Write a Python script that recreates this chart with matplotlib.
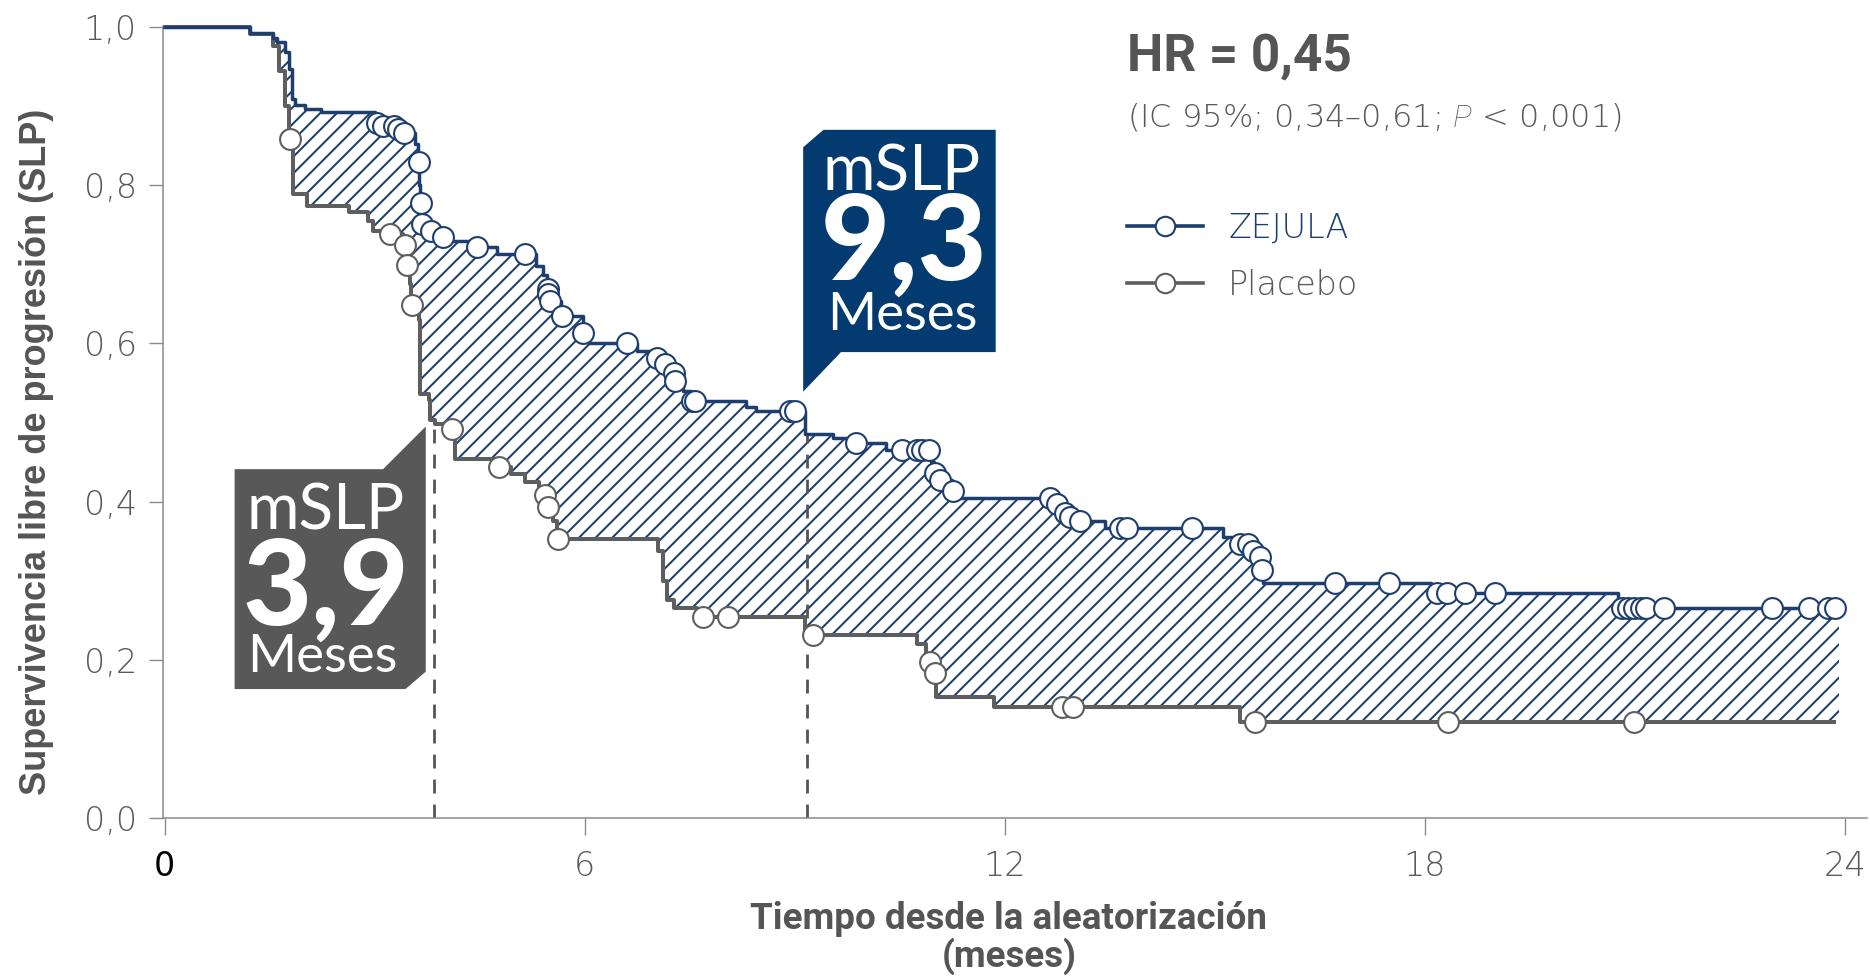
import numpy as np
import matplotlib
matplotlib.use("Agg")
import matplotlib.pyplot as plt
from matplotlib.patches import Polygon
from matplotlib.lines import Line2D

# ---------------- data ----------------
zejula_t = [0, 1.22, 1.55, 1.60, 1.72, 1.78, 1.815, 1.86, 2.0, 2.24, 3.0, 3.10, 3.32, 3.40,
            3.58, 3.62, 3.64, 3.65, 3.66, 3.80, 3.96, 4.05, 4.35, 4.45, 4.75, 5.30, 5.40,
            5.46, 5.475, 5.49, 5.66, 5.97, 6.05, 6.75, 7.02, 7.14, 7.26, 7.28, 7.40, 7.52,
            8.30, 8.45, 9.15, 9.55, 9.75, 10.30, 10.95, 10.99, 11.06, 11.24, 11.30, 12.72,
            12.84, 12.92, 13.05, 13.43, 15.12, 15.34, 15.53, 15.63, 15.66, 15.69, 18.09, 20.76]
zejula_s = [1.0, 0.993, 0.986, 0.981, 0.968, 0.947, 0.909, 0.902, 0.8965, 0.893, 0.878, 0.875,
            0.871, 0.866, 0.852, 0.829, 0.80, 0.778, 0.751, 0.742, 0.734, 0.730, 0.726, 0.722,
            0.713, 0.698, 0.686, 0.669, 0.663, 0.654, 0.635, 0.613, 0.600, 0.591, 0.582, 0.574,
            0.562, 0.553, 0.540, 0.527, 0.519, 0.515, 0.486, 0.480, 0.474, 0.465, 0.450, 0.436,
            0.427, 0.414, 0.405, 0.397, 0.386, 0.380, 0.376, 0.366, 0.355, 0.347, 0.338, 0.330,
            0.313, 0.297, 0.284, 0.265]
zejula_end = 23.92
zejula_cens = [3.03, 3.12, 3.27, 3.34, 3.42, 3.63, 3.655, 3.67, 3.81, 3.98, 4.46, 5.15, 5.47,
               5.48, 5.50, 5.67, 5.98, 6.6, 7.03, 7.15, 7.27, 7.29, 7.53, 7.58, 8.93, 9.0, 9.88,
               10.53, 10.74, 10.81, 10.91, 11.0, 11.07, 11.26, 12.65, 12.74, 12.86, 12.93, 13.07,
               13.64, 13.74, 14.67, 15.36, 15.48, 15.55, 15.65, 15.67, 16.72, 17.49, 18.17, 18.32,
               18.57, 19.0, 20.82, 20.9, 20.99, 21.08, 21.16, 21.42, 22.96, 23.49, 23.75, 23.86]

placebo_t = [0, 1.22, 1.55, 1.64, 1.72, 1.78, 1.84, 2.04, 2.63, 2.90, 2.98, 3.22, 3.40, 3.455,
             3.50, 3.52, 3.64, 3.65, 3.77, 3.79, 3.86, 4.09, 4.15, 4.70, 4.95, 5.15, 5.35, 5.42,
             5.46, 5.55, 5.60, 7.05, 7.12, 7.17, 7.28, 7.60, 9.15, 10.74, 10.88, 10.99, 11.02,
             11.84, 15.36]
placebo_s = [1.0, 0.991, 0.976, 0.944, 0.900, 0.858, 0.789, 0.774, 0.766, 0.755, 0.742, 0.738,
             0.724, 0.699, 0.675, 0.648, 0.629, 0.536, 0.528, 0.503, 0.498, 0.492, 0.454, 0.444,
             0.435, 0.425, 0.418, 0.408, 0.393, 0.375, 0.353, 0.338, 0.300, 0.275, 0.265, 0.254,
             0.231, 0.2205, 0.197, 0.183, 0.153, 0.1405, 0.121]
placebo_end = 23.84
placebo_cens = [1.79, 3.22, 3.43, 3.46, 3.53, 4.10, 4.77, 5.43, 5.48, 5.62, 7.69, 8.05, 9.26,
                10.93, 11.0, 12.81, 12.98, 15.57, 18.33, 20.98]

median_placebo = 3.85
median_zejula = 9.17

x_ticks = [0, 6, 12, 18, 24]
x_tick_labels = ["0", "6", "12", "18", "24"]
y_ticks = [0.0, 0.2, 0.4, 0.6, 0.8, 1.0]
y_tick_labels = ["0,0", "0,2", "0,4", "0,6", "0,8", "1,0"]

series_labels = ["ZEJULA", "Placebo"]
hr_text = "HR = 0,45"
ci_text = "(IC 95%; 0,34\u20130,61; $P$ < 0,001)"
y_label = "Supervivencia libre de progresi\u00f3n (SLP)"
x_label_1 = "Tiempo desde la aleatorizaci\u00f3n"
x_label_2 = "(meses)"

# ---------------- style ----------------
NAVY = "#1D3E6E"
NAVY_BOX = "#033B70"
GRAY = "#5E5E5E"
GRAY_BOX = "#585858"
TXT = "#555555"
LIGHT_FONT = {"family": "DejaVu Sans", "weight": 200}

plt.rcParams["hatch.linewidth"] = 1.45
plt.rcParams["mathtext.fontset"] = "custom"
plt.rcParams["mathtext.it"] = "Roboto:italic:light"
plt.rcParams["mathtext.rm"] = "Roboto:light"


def surv(t_events, s_vals, t):
    t_events = np.asarray(t_events, float)
    idx = np.searchsorted(t_events, np.asarray(t, float), side="right") - 1
    return np.asarray(s_vals, float)[idx]


fig = plt.figure(figsize=(18.7, 9.76), dpi=100)
ax = fig.add_axes([0.08727, 0.16189, 0.9110, 0.81045])
ax.set_xlim(-0.02, 24.31)
ax.set_ylim(0, 1.0)

# hatched area between curves
grid = np.unique(np.concatenate([np.asarray(zejula_t), np.asarray(placebo_t), [zejula_end]]))
grid = grid[(grid >= 1.2) & (grid <= zejula_end)]
yz = surv(zejula_t, zejula_s, grid)
yp = surv(placebo_t, placebo_s, grid)
ax.fill_between(grid, yp, yz, step="post", facecolor="white", edgecolor=NAVY,
                hatch="//", linewidth=0, zorder=1)

# median dashed lines
med_x = [median_placebo, median_zejula]
med_y = [surv(placebo_t, placebo_s, median_placebo), surv(zejula_t, zejula_s, median_zejula)]
ax.vlines(med_x, 0, med_y, colors="#555555", linestyles=(0, (5, 4.0)), linewidth=2.0, zorder=2)

# step curves
px = list(placebo_t) + [placebo_end]
py = list(placebo_s) + [placebo_s[-1]]
ax.step(px, py, where="post", color=GRAY, lw=2.9, zorder=3, clip_on=False)
zx = list(zejula_t) + [zejula_end]
zy = list(zejula_s) + [zejula_s[-1]]
ax.step(zx, zy, where="post", color=NAVY, lw=2.5, zorder=4, clip_on=False)

# censor marks
ax.plot(placebo_cens, surv(placebo_t, placebo_s, placebo_cens), "o", ms=15, mfc="white",
        mec=GRAY, mew=1.5, zorder=5, clip_on=False)
ax.plot(zejula_cens, surv(zejula_t, zejula_s, zejula_cens), "o", ms=15, mfc="white",
        mec=NAVY, mew=1.5, zorder=6, clip_on=False)

# axes styling
for s in ["top", "right"]:
    ax.spines[s].set_visible(False)
for s in ["left", "bottom"]:
    ax.spines[s].set_color("#8A8A8A")
    ax.spines[s].set_linewidth(1.1)
ax.set_xticks(x_ticks)
ax.set_xticklabels(x_tick_labels)
ax.set_yticks(y_ticks)
ax.set_yticklabels(y_tick_labels)
ax.tick_params(axis="y", length=10, width=1.0, color="#8A8A8A", pad=9, labelsize=24,
               labelcolor="#5A5A5A")
ax.tick_params(axis="x", length=12, width=1.0, color="#8A8A8A", pad=11, labelsize=24,
               labelcolor="#5A5A5A")
for lab in ax.get_xticklabels() + ax.get_yticklabels():
    lab.set_fontfamily(LIGHT_FONT["family"])
    lab.set_fontweight(LIGHT_FONT["weight"])
ax.get_xticklabels()[0].set_color("black")
ax.get_xticklabels()[0].set_fontweight("normal")

# axis labels
fig.text(0.0193, 0.537, y_label, rotation=90, ha="center", va="center",
         fontsize=26, fontweight="bold", color=TXT, family="Liberation Sans")
fig.text(0.5393, 0.0480, x_label_1, ha="center", va="baseline", fontsize=26.5,
         fontweight="bold", color=TXT, family="Roboto")
fig.text(0.5395, 0.0100, x_label_2, ha="center", va="baseline", fontsize=26.5,
         fontweight="bold", color=TXT, family="Roboto")

# HR text
ax.text(0.5655, 0.944, hr_text, transform=ax.transAxes, ha="left", va="baseline",
        fontsize=37, fontweight="bold", color=TXT, family="Roboto")
ax.text(0.5655, 0.874, ci_text, transform=ax.transAxes, ha="left", va="baseline",
        fontsize=23, fontweight=LIGHT_FONT["weight"], color="#5A5A5A",
        family=LIGHT_FONT["family"])

# legend
handles = [Line2D([], [], color=NAVY, lw=2.6, marker="o", ms=14, mfc="white", mec=NAVY, mew=1.5),
           Line2D([], [], color=GRAY, lw=2.6, marker="o", ms=14, mfc="white", mec=GRAY, mew=1.5)]
leg = ax.legend(handles, series_labels, loc="upper left", bbox_to_anchor=(0.5655, 0.766),
                frameon=False, borderpad=0, borderaxespad=0, handlelength=2.3,
                handletextpad=0.75, labelspacing=0.72, numpoints=1,
                prop={"family": LIGHT_FONT["family"], "weight": LIGHT_FONT["weight"], "size": 24})
leg.get_texts()[0].set_color(NAVY)
leg.get_texts()[1].set_color("#5A5A5A")

# annotation boxes (speech-bubble shapes)
navy_box = [(9.12, 0.848), (9.41, 0.870), (11.87, 0.870), (11.87, 0.589), (9.66, 0.589),
            (9.12, 0.539)]
gray_box = [(1.0, 0.441), (3.12, 0.441), (3.73, 0.495), (3.73, 0.185), (3.44, 0.163),
            (1.0, 0.163)]
ax.add_patch(Polygon(navy_box, closed=True, facecolor=NAVY_BOX, edgecolor="none", zorder=8))
ax.add_patch(Polygon(gray_box, closed=True, facecolor=GRAY_BOX, edgecolor="none", zorder=8))

box_font = "Lato"
ax.text(10.53, 0.793, "mSLP", ha="center", va="baseline", fontsize=46, fontweight="normal",
        color="white", family=box_font, zorder=9)
ax.text(10.56, 0.681, "9,3", ha="center", va="baseline", fontsize=86, fontweight="black",
        color="white", family=box_font, zorder=9)
ax.text(10.54, 0.617, "Meses", ha="center", va="baseline", fontsize=38, fontweight="normal",
        color="white", family=box_font, zorder=9)
ax.text(2.30, 0.365, "mSLP", ha="center", va="baseline", fontsize=46, fontweight="normal",
        color="white", family=box_font, zorder=9)
ax.text(2.30, 0.244, "3,9", ha="center", va="baseline", fontsize=86, fontweight="black",
        color="white", family=box_font, zorder=9)
ax.text(2.25, 0.185, "Meses", ha="center", va="baseline", fontsize=38, fontweight="normal",
        color="white", family=box_font, zorder=9)

fig.savefig("out.png", dpi=100)
